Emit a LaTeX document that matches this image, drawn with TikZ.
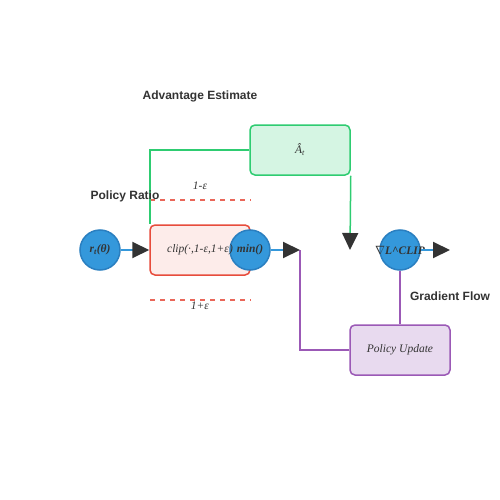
\documentclass[tikz,border=0pt]{standalone}
\usepackage{fontspec}
\setmainfont{Liberation Serif}
\setsansfont{Liberation Sans}
\usetikzlibrary{arrows.meta}
\definecolor{txt}{HTML}{333333}
\definecolor{cblue}{HTML}{3498DB}
\definecolor{cblueb}{HTML}{2A7FC0}
\definecolor{cred}{HTML}{E74C3C}
\definecolor{credf}{HTML}{FDECEA}
\definecolor{cgreen}{HTML}{2ECC71}
\definecolor{cgreenf}{HTML}{D5F5E3}
\definecolor{cpurple}{HTML}{9B59B6}
\definecolor{cpurplef}{HTML}{E8DAEF}
\tikzset{
  opcircle/.style={circle, fill=cblue, draw=cblueb, line width=1.5pt, minimum size=40pt, inner sep=0pt, font=\bfseries\itshape\fontsize{11.5}{13}\selectfont, text=txt},
  rbox/.style={rounded corners=5pt, minimum width=100pt, minimum height=50pt, line width=1.5pt, font=\itshape\fontsize{11.5}{13}\selectfont, text=txt, inner sep=0pt},
  lbl/.style={font=\sffamily\bfseries\fontsize{12}{14}\selectfont, text=txt},
  eps/.style={font=\itshape\fontsize{11.5}{13}\selectfont, text=txt},
  bigarrow/.style={-{Triangle[length=17pt,width=16pt,color=txt,fill=txt]}},
  flow/.style={line width=2pt, draw=cblue},
  dashline/.style={draw=cred, line width=1.2pt, dash pattern=on 5pt off 5pt, opacity=0.85}
}
\begin{document}
\begin{tikzpicture}[x=1pt,y=-1pt]
\useasboundingbox (0,0) rectangle (500,500);
\fill[white] (0,0) rectangle (500,500);
% boxes
\node[rbox, fill=credf, draw=cred] (clip) at (200,250) {};
\node[rbox, fill=cgreenf, draw=cgreen] (adv) at (300,150) {Â\textsubscript{t}};
\node[rbox, fill=cpurplef, draw=cpurple] (upd) at (400,350) {Policy Update};
% circles
\node[opcircle] (r) at (100,250) {r\textsubscript{t}(θ)};
\node[opcircle] (min) at (250,250) {min()};
\node[opcircle] (grad) at (400,250) {\makebox[0pt]{$\nabla$L\^{}CLIP}};
\node[font=\itshape\fontsize{11.5}{13}\selectfont, text=txt] (cliptxt) at (200,250) {clip(·,1-ε,1+ε)};
% coordinates
\coordinate (minend) at (300,250);
\coordinate (gradend) at (450,250);
\coordinate (advdown) at (350,250);
\coordinate (cornerA) at (150,150);
\coordinate (cornerP) at (300,350);
% dashed bounds
\coordinate (d1a) at (150,200); \coordinate (d1b) at (251,200);
\coordinate (d2a) at (150,300); \coordinate (d2b) at (251,300);
\draw[dashline] (d1a) -- (d1b);
\draw[dashline] (d2a) -- (d2b);
\node[eps] (lo) at (200,186) {1-ε};
\node[eps] (hi) at (200,306) {1+ε};
% green connectors
\draw[draw=cgreen, line width=1.5pt] (adv.west) -- (cornerA) -- (clip.north west -| cornerA);
\draw[draw=cgreen, line width=1.5pt, bigarrow] (adv.south east) -- (advdown);
% purple connectors
\draw[draw=cpurple, line width=1.5pt] (grad.south) -- (upd.north);
\draw[draw=cpurple, line width=1.5pt] (upd.west) -- (cornerP) -- (minend);
% blue flows
\draw[flow, bigarrow] (r.east) -- (clip.west);
\draw[flow, bigarrow] (min.east) -- (minend);
\draw[flow, bigarrow] (grad.east) -- (gradend);
% labels
\node[lbl] (la) at (200,96) {Advantage Estimate};
\node[lbl] (lp) at (125,196) {Policy Ratio};
\node[lbl] (lg) at (450,296) {Gradient Flow};
\end{tikzpicture}
\end{document}
